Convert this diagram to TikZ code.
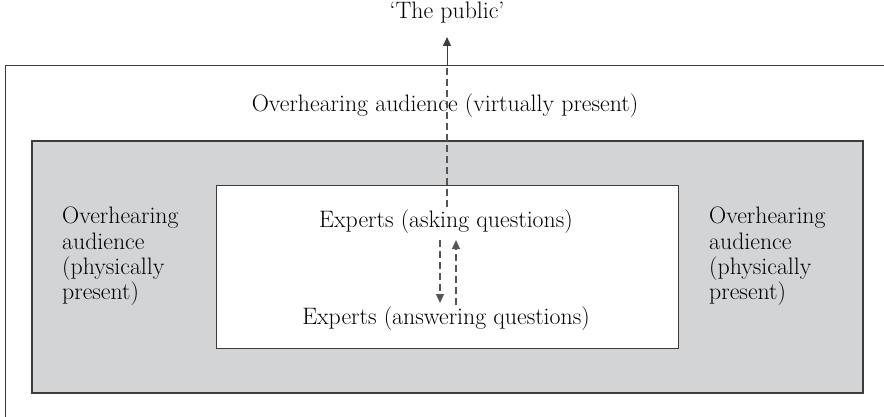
\documentclass[tikz,border=0pt]{standalone}
\usetikzlibrary{arrows.meta}
\definecolor{boxgray}{RGB}{211,212,214}
\definecolor{edge}{RGB}{60,60,60}
\definecolor{dashgray}{RGB}{85,85,85}
\begin{document}
\begin{tikzpicture}[x=1pt,y=-1pt,
  lbl/.style={font=\fontsize{23.8}{25.3}\selectfont, inner sep=0pt},
  dsh/.style={draw=dashgray, line width=1.1pt, dash pattern=on 7pt off 4pt},
  tip/.style={-{Triangle[length=9pt,width=8pt]}}]
\useasboundingbox (0,0) rectangle (884,417);
% outer open frame
\draw[edge, line width=1pt] (884,66) -- (5,66) -- (5,417);
% gray box
\draw[edge, line width=1.2pt, fill=boxgray] (32,141) rectangle (863,393);
% inner white box
\draw[edge, line width=1pt, fill=white] (216,186) rectangle (678,348);
% texts
\node[lbl] (public) at (447,13) {`The public'};
\node[lbl] (virt) at (445,106) {Overhearing audience (virtually present)};
\node[lbl, align=left, anchor=north west] (left) at (62,207) {Overhearing\\audience\\(physically\\present)};
\node[lbl, align=left, anchor=north west] (right) at (709,207) {Overhearing\\audience\\(physically\\present)};
\node[lbl] (ask) at (446,222) {Experts (asking questions)};
\node[lbl] (ans) at (446,319) {Experts (answering questions)};
\coordinate (ftop) at (447,66);
% line to the public
\draw[dsh] (447,207) -- (ftop);
\draw[edge, line width=1pt, tip] (ftop) -- (447,37);
% exchange arrows
\draw[dsh, tip] (440,240) -- (440,303);
\draw[dsh, tip] (456,305) -- (456,240);
\end{tikzpicture}
\end{document}
